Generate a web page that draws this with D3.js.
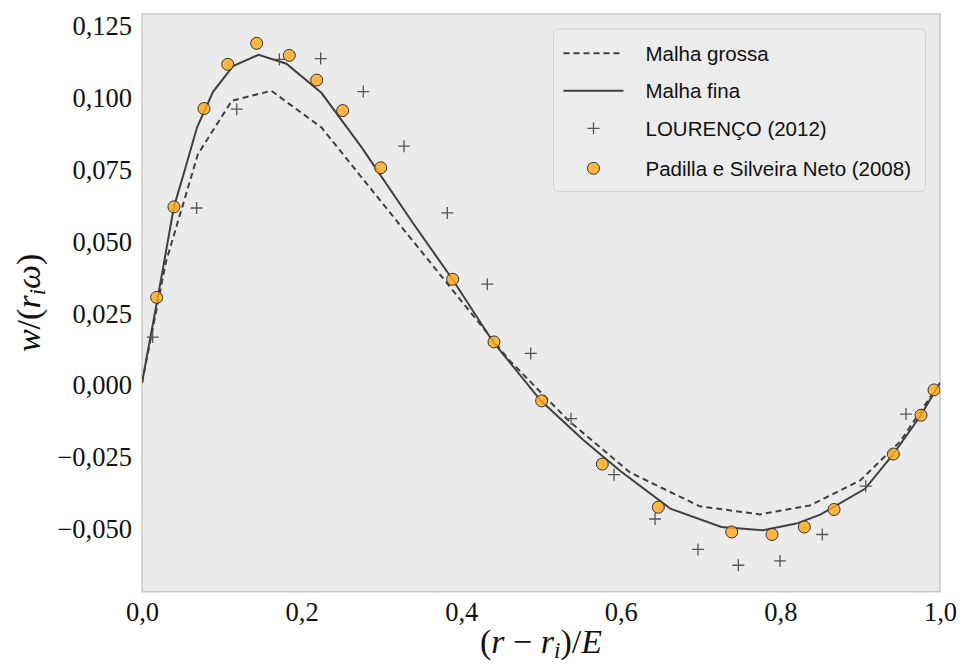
<!DOCTYPE html>
<html><head><meta charset="utf-8">
<script src="https://cdn.jsdelivr.net/npm/d3@7"></script>
<style>html,body{margin:0;padding:0;background:#fff;}</style>
</head><body>
<svg id="chart" width="960" height="666"></svg>
<script>
// ---- data ----
const fineX = [0, 0.020, 0.040, 0.054, 0.069, 0.089, 0.114, 0.146, 0.181, 0.225, 0.275, 0.338, 0.389, 0.440, 0.500, 0.553, 0.599, 0.662, 0.726, 0.778, 0.820, 0.850, 0.906, 0.9415, 0.976, 1.0];
const fineY = [0, 0.0300, 0.0612, 0.0744, 0.0889, 0.1012, 0.1102, 0.1141, 0.1110, 0.1008, 0.0820, 0.0562, 0.0360, 0.0142, -0.0063, -0.0199, -0.0306, -0.0438, -0.0502, -0.0513, -0.0490, -0.0459, -0.0369, -0.0248, -0.0113, 0.0];
const coarseX = [0, 0.030, 0.070, 0.1125, 0.162, 0.225, 0.300, 0.380, 0.460, 0.535, 0.6115, 0.699, 0.7744, 0.837, 0.900, 0.950, 1.0];
const coarseY = [0, 0.0420, 0.0795, 0.0981, 0.1016, 0.0888, 0.0629, 0.0354, 0.0079, -0.0133, -0.0312, -0.0430, -0.0458, -0.0427, -0.0340, -0.0205, 0.0];
const lourencoX = [0.0134, 0.0685, 0.1187, 0.1721, 0.2239, 0.2773, 0.3283, 0.3826, 0.4327, 0.4871, 0.5376, 0.5915, 0.6429, 0.6967, 0.7473, 0.7995, 0.8525, 0.9069, 0.9574];
const lourencoY = [0.0159, 0.0608, 0.0952, 0.1125, 0.1128, 0.1013, 0.0823, 0.0591, 0.0343, 0.0102, -0.0125, -0.0320, -0.0474, -0.0580, -0.0635, -0.0620, -0.0528, -0.0360, -0.0109];
const padillaX = [0.0184, 0.0400, 0.0777, 0.1074, 0.1437, 0.1846, 0.2189, 0.2515, 0.2991, 0.3893, 0.4411, 0.5008, 0.5768, 0.6470, 0.7390, 0.7895, 0.8300, 0.8672, 0.9415, 0.9762, 0.9925];
const padillaY = [0.0297, 0.0612, 0.0954, 0.1108, 0.1181, 0.1139, 0.1053, 0.0947, 0.0748, 0.0360, 0.0142, -0.0063, -0.0283, -0.0433, -0.0519, -0.0528, -0.0502, -0.0441, -0.0248, -0.0113, -0.0025];
const xTicks = [0, 0.2, 0.4, 0.6, 0.8, 1.0];
const yTicks = [-0.05, -0.025, 0, 0.025, 0.05, 0.075, 0.1, 0.125];
const legendLabels = ["Malha grossa", "Malha fina", "LOURENÇO (2012)", "Padilla e Silveira Neto (2008)"];

// ---- layout ----
const L = 142, R = 940, T = 14, B = 591.7;
const x = d3.scaleLinear().domain([0, 1]).range([L, R]);
const y = d3.scaleLinear().domain([-0.0727, 0.1283]).range([B, T]);
const svg = d3.select("#chart");
const lineCol = "#404040";

svg.append("rect").attr("x", L).attr("y", T).attr("width", R - L).attr("height", B - T)
  .attr("fill", "#ebebeb").attr("stroke", "#c8c8c8").attr("stroke-width", 1.5);

const fmt = (d, p) => d3.format("." + p + "f")(d).replace(".", ",").replace("-", "\u2212");

const xAxis = d3.axisBottom(x).tickValues(xTicks).tickSize(0).tickPadding(0).tickFormat(d => fmt(d, 1));
const gx = svg.append("g").attr("transform", `translate(0,${B})`).call(xAxis);
gx.select(".domain").remove();
gx.selectAll("text").attr("y", 29).attr("dy", 0).attr("fill", "#111")
  .style("font-family", "'Liberation Serif', serif").style("font-size", "26.5px");

const yAxis = d3.axisLeft(y).tickValues(yTicks).tickSize(0).tickPadding(0).tickFormat(d => fmt(d, 3));
const gy = svg.append("g").attr("transform", `translate(${L - 10},0)`).call(yAxis);
gy.select(".domain").remove();
gy.selectAll("text").attr("x", 0).attr("dy", "0.42em").attr("fill", "#111")
  .style("font-family", "'Liberation Serif', serif").style("font-size", "26.5px");

// axis labels
const xl = svg.append("text").attr("x", x(0.5)).attr("y", 653).attr("text-anchor", "middle")
  .style("font-family", "'Liberation Serif', serif").style("font-size", "34px").attr("fill", "#111");
xl.append("tspan").text("(");
xl.append("tspan").attr("font-style", "italic").text("r");
xl.append("tspan").text(" \u2212 ");
xl.append("tspan").attr("font-style", "italic").text("r");
xl.append("tspan").attr("font-style", "italic").attr("font-size", "23px").attr("dy", 5).text("i");
xl.append("tspan").attr("dy", -5).text(")/");
xl.append("tspan").attr("font-style", "italic").text("E");

const yl = svg.append("text").attr("transform", `translate(40,${(T + B) / 2}) rotate(-90)`).attr("text-anchor", "middle")
  .style("font-family", "'Liberation Serif', serif").style("font-size", "34px").attr("fill", "#111");
yl.append("tspan").attr("font-style", "italic").text("w");
yl.append("tspan").text("/(");
yl.append("tspan").attr("font-style", "italic").text("r");
yl.append("tspan").attr("font-style", "italic").attr("font-size", "23px").attr("dy", 5).text("i");
yl.append("tspan").attr("font-style", "italic").attr("dy", -5).text("\u03C9");
yl.append("tspan").text(")");

// clip
svg.append("clipPath").attr("id", "clip").append("rect").attr("x", L).attr("y", T).attr("width", R - L).attr("height", B - T);
const plot = svg.append("g").attr("clip-path", "url(#clip)");

const line = d3.line().x(d => x(d[0])).y(d => y(d[1]));
plot.append("path").datum(d3.zip(coarseX, coarseY)).attr("d", line).attr("fill", "none")
  .attr("stroke", lineCol).attr("stroke-width", 2).attr("stroke-dasharray", "6,4");
plot.append("path").datum(d3.zip(fineX, fineY)).attr("d", line).attr("fill", "none")
  .attr("stroke", lineCol).attr("stroke-width", 2);

const plusSize = 6;
function plus(g, cx, cy) {
  g.append("path").attr("d", `M${cx - plusSize},${cy}H${cx + plusSize}M${cx},${cy - plusSize}V${cy + plusSize}`)
    .attr("stroke", "#555").attr("stroke-width", 1.3).attr("fill", "none");
}
d3.zip(lourencoX, lourencoY).forEach(d => plus(plot, x(d[0]), y(d[1])));

plot.selectAll("circle.pad").data(d3.zip(padillaX, padillaY)).join("circle").attr("class", "pad")
  .attr("cx", d => x(d[0])).attr("cy", d => y(d[1])).attr("r", 6)
  .attr("fill", "rgba(255,170,30,0.82)").attr("stroke", "#333").attr("stroke-width", 1);

// legend
const lg = svg.append("g");
lg.append("rect").attr("x", 553.5).attr("y", 29).attr("width", 372).attr("height", 162.5).attr("rx", 4)
  .attr("fill", "#ececec").attr("stroke", "#d4d4d4").attr("stroke-width", 1);
const rowsY = [53.3, 90.7, 128.3, 168.3];
const hx0 = 563.5, hx1 = 623.5, hxc = 593.5;
lg.append("line").attr("x1", hx0).attr("x2", hx1).attr("y1", rowsY[0]).attr("y2", rowsY[0])
  .attr("stroke", lineCol).attr("stroke-width", 2).attr("stroke-dasharray", "6,4");
lg.append("line").attr("x1", hx0).attr("x2", hx1).attr("y1", rowsY[1]).attr("y2", rowsY[1])
  .attr("stroke", lineCol).attr("stroke-width", 2);
plus(lg, hxc, rowsY[2]);
lg.append("circle").attr("cx", hxc).attr("cy", rowsY[3]).attr("r", 6)
  .attr("fill", "rgba(255,170,30,0.82)").attr("stroke", "#333").attr("stroke-width", 1);
legendLabels.forEach((t, i) => {
  lg.append("text").attr("x", 645.5).attr("y", rowsY[i]).attr("dy", "0.36em").text(t)
    .style("font-family", "'Liberation Sans', Arial, sans-serif").style("font-size", "20.5px").attr("fill", "#111");
});
</script>
</body></html>
